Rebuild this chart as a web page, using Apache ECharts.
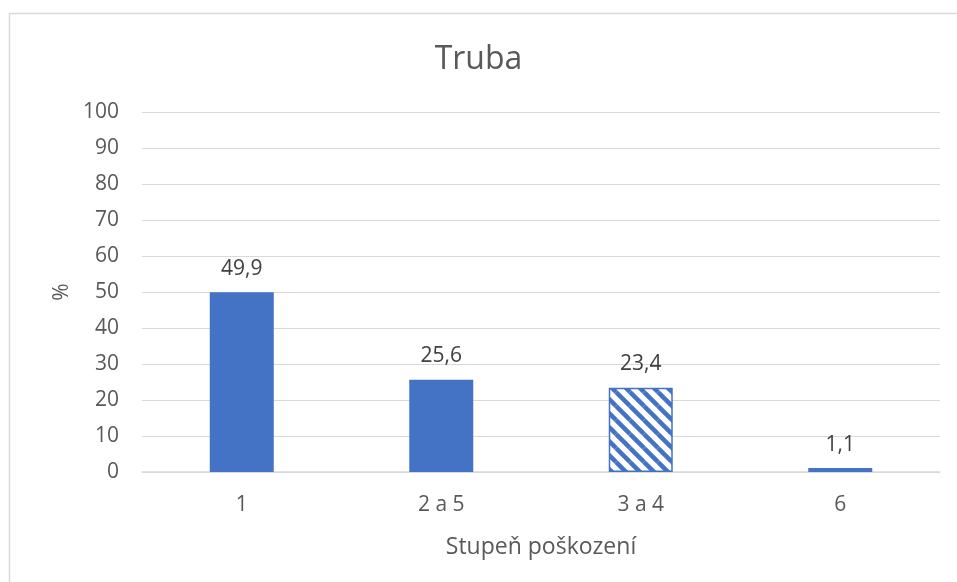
<!DOCTYPE html>
<html>
<head>
<meta charset="utf-8">
<script src="https://cdn.jsdelivr.net/npm/echarts@6/dist/echarts.min.js"></script>
<style>
  html, body { margin: 0; padding: 0; background: #fff; }
  #chart { width: 957px; height: 582px; }
</style>
</head>
<body>
<div id="chart"></div>
<script>
const categories = ['1', '2 a 5', '3 a 4', '6'];
const values = [49.9, 25.6, 23.4, 1.1];
const hatched = [false, false, true, false];
const yTicks = [0, 100, 10];

const blue = '#4472c4';
const font = '"Open Sans", "Noto Sans", sans-serif';

// diagonal stripe tile for the hatched bar
function stripes() {
    const s = 14;
    const c = document.createElement('canvas');
    c.width = s; c.height = s;
    const ctx = c.getContext('2d');
    ctx.fillStyle = '#fff';
    ctx.fillRect(0, 0, s, s);
    ctx.strokeStyle = blue;
    ctx.lineWidth = 4.5;
    [[-s, 0], [0, 0], [s, 0], [0, -s], [0, s]].forEach(function (o) {
        ctx.beginPath();
        ctx.moveTo(o[0], o[1]);
        ctx.lineTo(o[0] + s, o[1] + s);
        ctx.stroke();
    });
    return c;
}
const pattern = { image: stripes(), repeat: 'repeat' };

const data = values.map(function (v, i) {
    if (!hatched[i]) return { value: v, itemStyle: { color: blue } };
    return { value: v, itemStyle: { color: pattern, borderColor: blue, borderWidth: 1.5 } };
});

const chart = echarts.init(document.getElementById('chart'));
chart.setOption({
    animation: false,
    textStyle: { fontFamily: font },
    graphic: [{
        type: 'rect',
        shape: { x: 9.5, y: 13.5, width: 980, height: 620 },
        style: { fill: 'none', stroke: '#d9d9d9', lineWidth: 1.5 },
        silent: true
    }],
    title: {
        text: 'Truba',
        left: 'center',
        top: 39,
        textStyle: { fontSize: 32, fontWeight: 'normal', color: '#595959', fontFamily: font }
    },
    grid: { left: 142, right: 17, top: 112, bottom: 110 },
    xAxis: {
        type: 'category',
        data: categories,
        name: 'Stupeň poškození',
        nameLocation: 'middle',
        nameGap: 64,
        nameTextStyle: { fontSize: 23, color: '#595959' },
        axisLine: { lineStyle: { color: '#d9d9d9', width: 1.5 } },
        axisTick: { show: false },
        axisLabel: { fontSize: 21, color: '#595959', margin: 23 }
    },
    yAxis: {
        type: 'value',
        min: yTicks[0],
        max: yTicks[1],
        interval: yTicks[2],
        name: '%',
        nameLocation: 'middle',
        nameGap: 69,
        nameRotate: 90,
        nameTextStyle: { fontSize: 21, color: '#595959' },
        axisLine: { show: false },
        axisTick: { show: false },
        axisLabel: { fontSize: 21, color: '#595959', margin: 23 },
        splitLine: { lineStyle: { color: '#d9d9d9', width: 1 } }
    },
    series: [{
        type: 'bar',
        data: data,
        barWidth: 64,
        label: {
            show: true,
            position: 'top',
            distance: 13,
            fontSize: 21,
            color: '#404040',
            formatter: function (p) { return String(p.value).replace('.', ','); }
        }
    }]
});
</script>
</body>
</html>
